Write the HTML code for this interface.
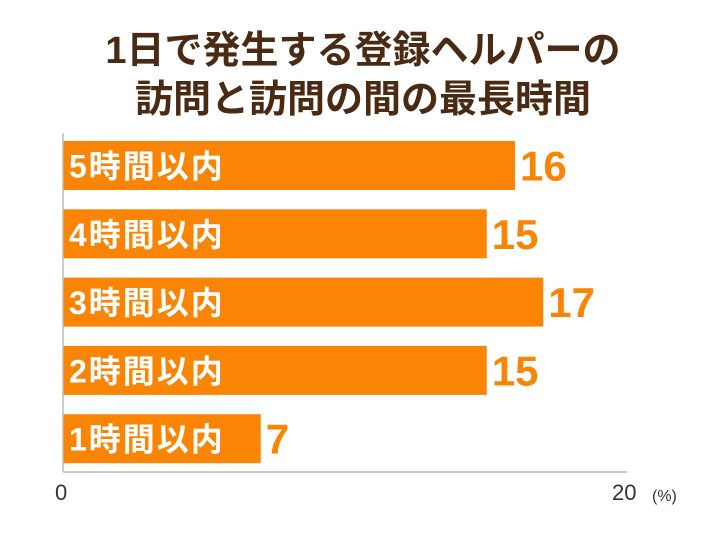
<!DOCTYPE html>
<html><head><meta charset="utf-8"><style>
body{margin:0;background:#fff;width:726px;height:545px;overflow:hidden}
svg{display:block;font-family:"Liberation Sans","Noto Sans CJK JP",sans-serif}
</style></head><body>
<svg id="c" width="726" height="545">
<text x="363" y="63" text-anchor="middle" font-size="38" font-weight="bold" fill="#4a2a12">1日で発生する登録ヘルパーの</text>
<text x="363" y="112" text-anchor="middle" font-size="38" font-weight="bold" fill="#4a2a12">訪問と訪問の間の最長時間</text>
<g id="bars"></g>
<line x1="63" y1="133" x2="63" y2="472" stroke="#bbb" stroke-width="1.5"/>
<line x1="63" y1="472" x2="627" y2="472" stroke="#bbb" stroke-width="1.5"/>
<g id="ticks"></g>
<text x="652" y="501" font-size="16" fill="#333">(%)</text>
</svg>
<script>
const categories=["5時間以内","4時間以内","3時間以内","2時間以内","1時間以内"];
const values=[16,15,17,15,7];
const tickValues=[0,20];
const ns="http://www.w3.org/2000/svg";
const x0=63,x1=628,xmax=20;
function xs(v){return x0+(x1-x0)*v/xmax;}
function ys(i){return 141+i*68.3;}
const bh=49;
const g=document.getElementById('bars');
categories.forEach((c,i)=>{
  const r=document.createElementNS(ns,'rect');
  
  
  r.setAttribute('x',x0);r.setAttribute('y',ys(i));
  r.setAttribute('width',xs(values[i])-x0);r.setAttribute('height',bh);
  r.setAttribute('fill','#fa8404');g.appendChild(r);
  const t=document.createElementNS(ns,'text');
  
  
  t.setAttribute('x',x0+6);t.setAttribute('y',ys(i)+bh/2+12);
  t.setAttribute('font-size','32');t.setAttribute('font-weight','bold');t.setAttribute('fill','#fff');
  t.setAttribute('letter-spacing','2');
  t.textContent=c;g.appendChild(t);
  const v=document.createElementNS(ns,'text');
  
  
  v.setAttribute('x',xs(values[i])+5);v.setAttribute('y',ys(i)+bh/2+15);
  v.setAttribute('font-size','42');v.setAttribute('font-weight','bold');v.setAttribute('fill','#fa8404');
  v.textContent=values[i];g.appendChild(v);
});
const tg=document.getElementById('ticks');
tickValues.forEach(tv=>{
  const t=document.createElementNS(ns,'text');
  
  
  t.setAttribute('x',tv===0?xs(tv)-8:xs(tv)-16);t.setAttribute('y',500);
  t.setAttribute('font-size','22');t.setAttribute('fill','#333');
  t.textContent=tv;tg.appendChild(t);
});
</script>
</body></html>
